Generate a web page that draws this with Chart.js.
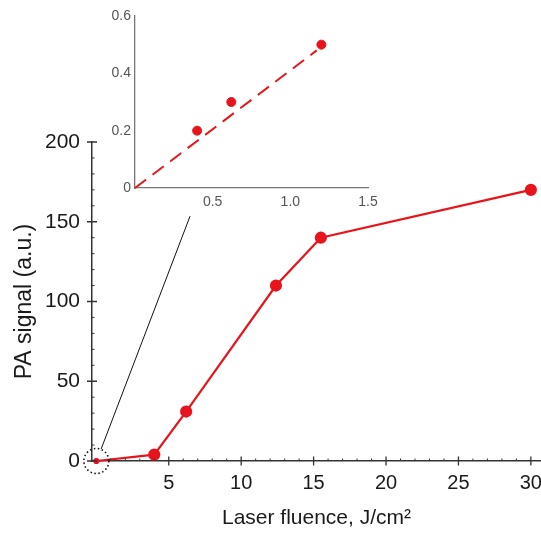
<!DOCTYPE html>
<html>
<head>
<meta charset="utf-8">
<script src="https://cdn.jsdelivr.net/npm/chart.js@4"></script>
<style>
  html, body { margin: 0; padding: 0; background: #fff; overflow: hidden; }
  #wrap { position: relative; width: 541px; height: 533px; }
  #mainChart { position: absolute; left: 0; top: 0; }
  #insetChart { position: absolute; left: 0; top: 0; }
</style>
</head>
<body>
<div id="wrap">
  <canvas id="mainChart" width="541" height="533"></canvas>
  <canvas id="insetChart" width="400" height="215"></canvas>
</div>
<script>
// main plot: PA signal vs laser fluence
const fluence = [0, 4, 6.2, 12.4, 15.5, 30];
const paSignal = [0, 4, 31, 110, 140, 170];
const xTickValues = [5, 10, 15, 20, 25, 30];
const yTickValues = [0, 50, 100, 150, 200];

// inset: low fluence region
const insetFluence = [0.4, 0.62, 1.2];
const insetSignal = [0.2, 0.3, 0.5];
const fitFluence = [0, 1.17];
const fitSignal = [0, 0.48];
const insetXTicks = [0.5, 1.0, 1.5];
const insetYTicks = [0, 0.2, 0.4, 0.6];

// zoom marker: circle round origin + leader line up to the inset (data coords of main plot)
const zoomCircle = { x: 0, y: 0, r: 12.5 };
const leaderFrom = { x: 0.33, y: 7.5 };
const leaderTo = { x: 6.47, y: 153.5 };

const RED = '#e8141c';
const FONT = "'Liberation Sans', Arial, sans-serif";

// tick marks crossing the axes, minor ticks, and the x labels
// (x labels drawn here so "30" can run off the right edge like the original)
const crossTicks = {
    id: 'crossTicks',
    afterDraw(chart) {
        const { ctx, scales: { x, y }, chartArea } = chart;
        ctx.save();
        ctx.strokeStyle = '#333';
        ctx.lineWidth = 1.3;
        ctx.beginPath();
        xTickValues.forEach(v => {
            const px = x.getPixelForValue(v);
            ctx.moveTo(px, chartArea.bottom - 4.5);
            ctx.lineTo(px, chartArea.bottom + 4.5);
        });
        yTickValues.forEach(v => {
            const py = y.getPixelForValue(v);
            ctx.moveTo(chartArea.left - 5, py);
            ctx.lineTo(chartArea.left + 5, py);
        });
        ctx.stroke();

        ctx.lineWidth = 1;
        ctx.beginPath();
        for (let v = 1; v < 31; v++) {
            if (v % 5 === 0) continue;
            const px = x.getPixelForValue(v);
            ctx.moveTo(px, chartArea.bottom);
            ctx.lineTo(px, chartArea.bottom - 2.5);
        }
        for (let v = 10; v < 200; v += 10) {
            if (v % 50 === 0) continue;
            const py = y.getPixelForValue(v);
            ctx.moveTo(chartArea.left, py);
            ctx.lineTo(chartArea.left + 2.5, py);
        }
        ctx.stroke();

        ctx.fillStyle = '#1a1a1a';
        ctx.font = `20px ${FONT}`;
        ctx.textAlign = 'center';
        ctx.textBaseline = 'top';
        xTickValues.forEach(v => {
            ctx.fillText(String(v), x.getPixelForValue(v), chartArea.bottom + 12.5);
        });
        ctx.restore();
    }
};

const zoomMarker = {
    id: 'zoomMarker',
    afterDatasetsDraw(chart) {
        const { ctx, scales: { x, y } } = chart;
        ctx.save();
        ctx.strokeStyle = '#111';
        ctx.lineWidth = 1.6;
        ctx.setLineDash([1.5, 2.5]);
        ctx.beginPath();
        ctx.arc(x.getPixelForValue(zoomCircle.x), y.getPixelForValue(zoomCircle.y), zoomCircle.r, 0, Math.PI * 2);
        ctx.stroke();
        ctx.setLineDash([]);
        ctx.lineWidth = 1;
        ctx.beginPath();
        ctx.moveTo(x.getPixelForValue(leaderFrom.x), y.getPixelForValue(leaderFrom.y));
        ctx.lineTo(x.getPixelForValue(leaderTo.x), y.getPixelForValue(leaderTo.y));
        ctx.stroke();
        ctx.restore();
    }
};

function buildTicks(values) {
    return scale => { scale.ticks = values.map(v => ({ value: v })); };
}

function initMain() {
    const ctx = document.getElementById('mainChart').getContext('2d');
    new Chart(ctx, {
        type: 'scatter',
        data: {
            datasets: [{
                data: fluence.map((f, i) => ({ x: f, y: paSignal[i] })),
                showLine: true,
                borderColor: RED,
                backgroundColor: RED,
                borderWidth: 2.2,
                pointRadius: c => c.dataIndex === 0 ? 2 : 5,
                pointHoverRadius: 5,
                clip: false
            }]
        },
        options: {
            responsive: false,
            animation: false,
            layout: { autoPadding: false, padding: { top: 142, left: 0, right: 0, bottom: 0 } },
            plugins: { legend: { display: false }, tooltip: { enabled: false } },
            scales: {
                x: {
                    type: 'linear',
                    min: -0.3,
                    max: 30.7,
                    afterBuildTicks: buildTicks(xTickValues),
                    afterFit: s => { s.height = 72; },
                    grid: { display: false, drawTicks: false },
                    border: { display: true, color: '#333', width: 1.5 },
                    ticks: { display: false },
                    title: {
                        display: true,
                        text: 'Laser fluence, J/cm²',
                        color: '#1a1a1a',
                        font: { family: FONT, size: 21 },
                        padding: { top: 0, bottom: 2 }
                    }
                },
                y: {
                    type: 'linear',
                    min: 0,
                    max: 200,
                    afterBuildTicks: buildTicks(yTickValues),
                    afterFit: s => { s.width = 92; },
                    grid: { display: false, drawTicks: false },
                    border: { display: true, color: '#333', width: 1.5 },
                    ticks: { color: '#1a1a1a', padding: 12, font: { family: FONT, size: 21 } },
                    title: {
                        display: true,
                        text: 'PA signal (a.u.)',
                        color: '#1a1a1a',
                        font: { family: FONT, size: 23 },
                        padding: { top: 11, bottom: 0 }
                    }
                }
            }
        },
        plugins: [crossTicks, zoomMarker]
    });
}

function initInset() {
    const ctx = document.getElementById('insetChart').getContext('2d');
    new Chart(ctx, {
        type: 'scatter',
        data: {
            datasets: [
                {
                    data: insetFluence.map((f, i) => ({ x: f, y: insetSignal[i] })),
                    backgroundColor: RED,
                    borderColor: RED,
                    pointRadius: 4.5,
                    showLine: false
                },
                {
                    data: fitFluence.map((f, i) => ({ x: f, y: fitSignal[i] })),
                    showLine: true,
                    borderColor: RED,
                    borderWidth: 2,
                    borderDash: [14, 8],
                    pointRadius: 0,
                    clip: false
                }
            ]
        },
        options: {
            responsive: false,
            animation: false,
            layout: { autoPadding: false, padding: { top: 16, left: 0, right: 32, bottom: 0 } },
            plugins: { legend: { display: false }, tooltip: { enabled: false } },
            scales: {
                x: {
                    type: 'linear',
                    min: 0,
                    max: 1.5,
                    afterBuildTicks: buildTicks(insetXTicks),
                    afterFit: s => { s.height = 27; },
                    grid: { display: false, drawTicks: false },
                    border: { display: true, color: '#777', width: 1.3 },
                    ticks: { color: '#555', padding: 6, maxRotation: 0, font: { family: FONT, size: 14 }, callback: v => v.toFixed(1) }
                },
                y: {
                    type: 'linear',
                    min: 0,
                    max: 0.6,
                    afterBuildTicks: buildTicks(insetYTicks),
                    afterFit: s => { s.width = 135; },
                    grid: { display: false, drawTicks: false },
                    border: { display: true, color: '#777', width: 1.3 },
                    ticks: { color: '#555', padding: 4, font: { family: FONT, size: 14 }, callback: v => v === 0 ? '0' : v.toFixed(1) }
                }
            }
        }
    });
}

initMain();
initInset();
</script>
</body>
</html>
